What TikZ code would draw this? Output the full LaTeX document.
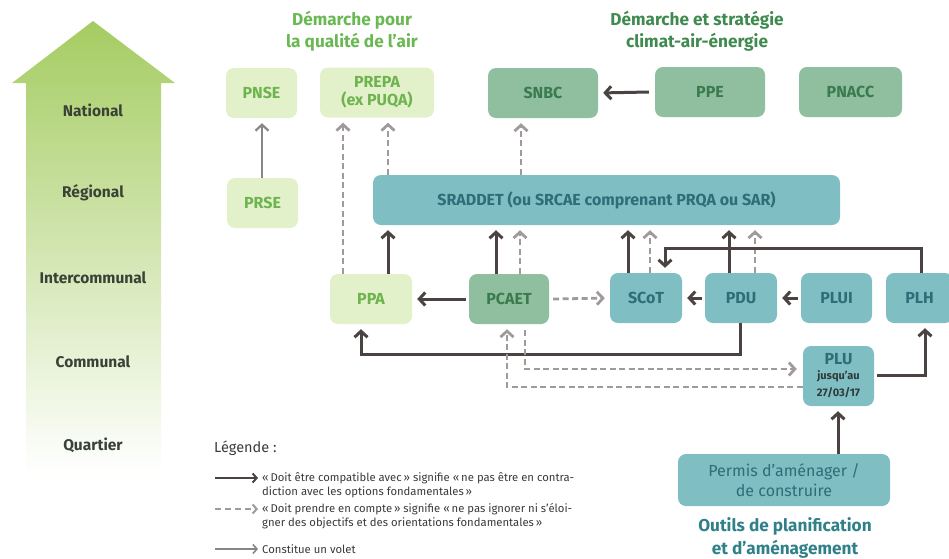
\documentclass[tikz,border=0pt]{standalone}
\usepackage{fontspec}
\setmainfont{Fira Sans}
\usetikzlibrary{arrows.meta,calc}
\definecolor{lgfill}{HTML}{E3F1CB}
\definecolor{lgtext}{HTML}{6DB34E}
\definecolor{mgfill}{HTML}{8FBF9E}
\definecolor{mgtext}{HTML}{3B7A4E}
\definecolor{tlfill}{HTML}{7FBFC3}
\definecolor{tltext}{HTML}{2D6E78}
\definecolor{darkarr}{HTML}{4B4242}
\definecolor{dasharr}{HTML}{A09A9A}
\definecolor{voletarr}{HTML}{8A8585}
\definecolor{arrowgreen}{HTML}{A5CC62}
\definecolor{arrowmid}{HTML}{D2E7B0}
\definecolor{titleA}{HTML}{6AB853}
\definecolor{titleB}{HTML}{3F8A4F}
\definecolor{titleC}{HTML}{2F8088}
\definecolor{levtext}{HTML}{3A4238}
\definecolor{legtext}{HTML}{3A3A3A}
\definecolor{plusub}{HTML}{2E3A3A}
\newcommand{\plusmall}{\fontsize{11}{12}\selectfont\color{plusub}}
\begin{document}
\begin{tikzpicture}[x=1pt,y=-1pt,
  mybox/.style={rounded corners=8pt, inner sep=0pt, align=center, font=\fontsize{16}{18}\selectfont\bfseries},
  lgbox/.style={mybox, fill=lgfill, text=lgtext},
  mgbox/.style={mybox, fill=mgfill, text=mgtext},
  tlbox/.style={mybox, fill=tlfill, text=tltext},
  comp/.style={draw=darkarr, line width=3pt, -{Straight Barb[length=6pt,width=13pt]}, shorten >=5pt},
  prend/.style={draw=dasharr, line width=2.8pt, dash pattern=on 6pt off 3.5pt, -{Straight Barb[length=6pt,width=13pt]}, shorten >=5pt},
  volet/.style={draw=voletarr, line width=2.2pt, -{Straight Barb[length=6pt,width=13pt]}, shorten >=5pt},
  levlab/.style={font=\fontsize{15.5}{17}\selectfont\bfseries, text=levtext},
  ttl/.style={font=\fontsize{17.2}{22.5}\selectfont\bfseries, align=center},
  leg/.style={font=\fontsize{11.3}{14}\selectfont, text=legtext, align=left, anchor=west, inner sep=0pt}
]
\useasboundingbox (0,0) rectangle (949,558);
\clip (0,0) rectangle (949,558);
% big level arrow
\shade[top color=arrowgreen, middle color=arrowmid, bottom color=white]
  (26,475) -- (26,83) -- (12,83) -- (93,21) -- (175,83) -- (161,83) -- (161,475) -- cycle;
\node[levlab] (lnat) at (93,110) {National};
\node[levlab] (lreg) at (93,193) {Régional};
\node[levlab] (lint) at (93,278) {Intercommunal};
\node[levlab] (lcom) at (93,362) {Communal};
\node[levlab] (lqua) at (93,445) {Quartier};

% titles
\node[ttl, text=titleA] (tA) at (352,31) {Démarche pour\\la qualité de l’air};
\node[ttl, text=titleB] (tB) at (697,31) {Démarche et stratégie\\climat-air-énergie};
\node[ttl, text=titleC] (tC) at (785,538) {Outils de planification\\et d’aménagement};

% boxes
\node[lgbox, minimum width=71pt, minimum height=50pt] (PNSE) at (261.5,93) {PNSE};
\node[lgbox, minimum width=114pt, minimum height=50pt] (PREPA) at (377,92.5) {PREPA\\(ex PUQA)};
\node[mgbox, minimum width=110pt, minimum height=50pt] (SNBC) at (543,93) {SNBC};
\node[mgbox, minimum width=110pt, minimum height=50pt] (PPE) at (710,92) {PPE};
\node[mgbox, minimum width=103pt, minimum height=50pt] (PNACC) at (850.5,92) {PNACC};
\node[lgbox, minimum width=71pt, minimum height=50pt] (PRSE) at (262.5,203) {PRSE};
\node[tlbox, minimum width=467pt, minimum height=50pt] (SRADDET) at (606.5,200) {SRADDET (ou SRCAE comprenant PRQA ou SAR)};
\node[lgbox, minimum width=82pt, minimum height=50pt] (PPA) at (371,299) {PPA};
\node[mgbox, minimum width=80pt, minimum height=50pt] (PCAET) at (509,299) {PCAET};
\node[tlbox, minimum width=72pt, minimum height=50pt] (SCoT) at (646,298) {SCoT};
\node[tlbox, minimum width=72pt, minimum height=50pt] (PDU) at (741,298) {PDU};
\node[tlbox, minimum width=71pt, minimum height=50pt] (PLUI) at (836.5,298) {PLUI};
\node[tlbox, minimum width=67pt, minimum height=50pt] (PLH) at (919.5,298) {PLH};
\node[tlbox, minimum width=71pt, minimum height=60pt] (PLU) at (838.5,376) {PLU\\[-3pt]\plusmall jusqu’au\\[-1pt]\plusmall 27/03/17};
\node[tlbox, minimum width=212pt, minimum height=52pt, font=\fontsize{16}{19.5}\selectfont] (Permis) at (784,480) {Permis d’aménager /\\de construire};

% connectors
\draw[volet] (PRSE.north -| 262,0) -- (PNSE.south -| 262,0);
\draw[comp] (PPE.west) ++(-6,0) -- (SNBC.east);
\draw[prend] (PPA.north -| 343,0) -- (PREPA.south -| 343,0);
\draw[prend] (SRADDET.north -| 388,0) -- (PREPA.south -| 388,0);
\draw[prend] (SRADDET.north -| 521,0) -- (SNBC.south -| 521,0);
\draw[comp] (PPA.north -| 388,0) -- (SRADDET.south -| 388,0);
\draw[comp] (PCAET.north -| 496,0) -- (SRADDET.south -| 496,0);
\draw[prend] (PCAET.north -| 520,0) -- (SRADDET.south -| 520,0);
\draw[comp] (SCoT.north -| 628,0) -- (SRADDET.south -| 628,0);
\draw[prend] (SCoT.north -| 650,0) -- (SRADDET.south -| 650,0);
\draw[comp] (PDU.north -| 729,0) -- (SRADDET.south -| 729,0);
\draw[prend] (PDU.north -| 755,0) -- (SRADDET.south -| 755,0);
\draw[comp] (PLH.north -| 921,0) -- (921,248) -- (665,248) -- (SCoT.north -| 665,0);
\draw[comp] (PCAET.west) ++(-3,0) -- (PPA.east);
\draw[prend] (PCAET.east) ++(4,0) -- (SCoT.west);
\draw[comp] (PDU.west) ++(-3,0) -- (SCoT.east);
\draw[comp] (PLUI.west) ++(-3,0) -- (PDU.east);
\draw[comp] (PDU.south -| 740,0) -- (740,354) -- (361,354) -- (PPA.south -| 361,0);
\draw[prend, shorten >=6pt] (525,330) -- (525,369) -- (PLU.west |- 0,369);
\draw[prend] (PLU.west |- 0,387) -- (507,387) -- (PCAET.south -| 507,0);
\draw[comp] (PLU.east |- 0,375) ++(3,0) -- (925,375) -- (PLH.south -| 925,0);
\draw[comp] (Permis.north -| 838,0) -- (PLU.south -| 838,0);

% legend
\node[leg, font=\fontsize{14.5}{16}\selectfont] (legt) at (214,448) {Légende :};
\coordinate (l1a) at (215,478); \coordinate (l1b) at (259,478);
\coordinate (l2a) at (215,509); \coordinate (l2b) at (259,509);
\coordinate (l3a) at (215,549); \coordinate (l3b) at (259,549);
\draw[comp, line width=2pt, shorten >=1pt, -{Straight Barb[length=4pt,width=9pt]}] (l1a) -- (l1b);
\draw[prend, line width=2pt, shorten >=1pt, dash pattern=on 6pt off 4pt, -{Straight Barb[length=4pt,width=9pt]}] (l2a) -- (l2b);
\draw[volet, line width=1.6pt, shorten >=1pt, -{Straight Barb[length=4pt,width=9pt]}] (l3a) -- (l3b);
\node[leg] (leg1) at (262,485) {«\,Doit être compatible avec\,» signifie «\,ne pas être en contra-\\diction avec les options fondamentales\,»};
\node[leg] (leg2) at (262,516) {«\,Doit prendre en compte\,» signifie «\,ne pas ignorer ni s’éloi-\\gner des objectifs et des orientations fondamentales\,»};
\node[leg] (leg3) at (262,549) {Constitue un volet};
\end{tikzpicture}
\end{document}
